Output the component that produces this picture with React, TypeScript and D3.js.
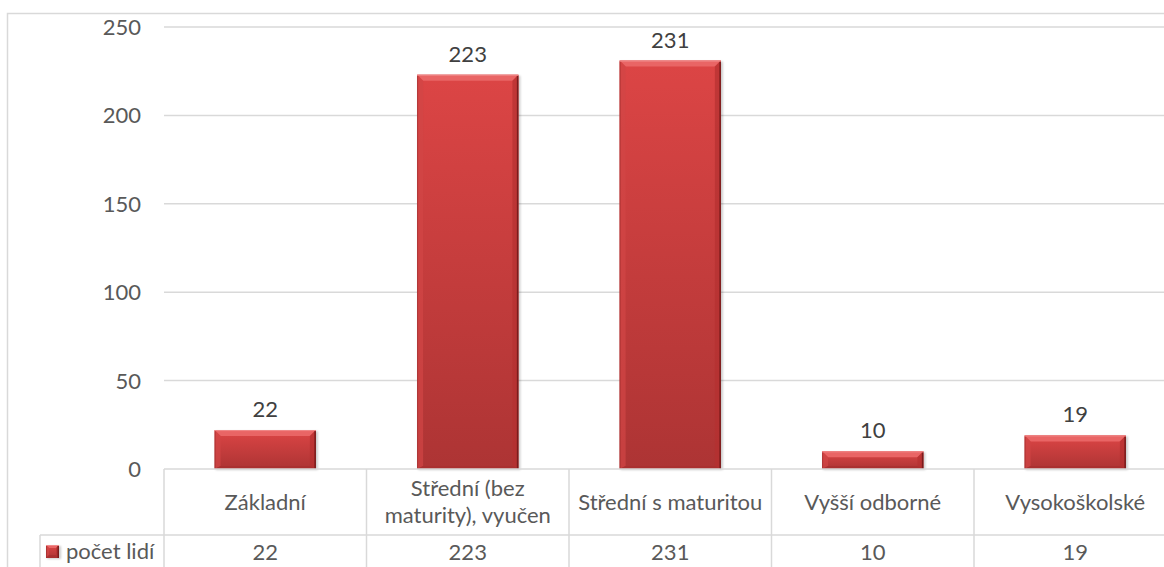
import React from "react";
import * as d3 from "d3";

const categories = ["Základní", "Střední (bez maturity), vyučen", "Střední s maturitou", "Vyšší odborné", "Vysokoškolské"];
const categoryLines = [["Základní"], ["Střední (bez", "maturity), vyučen"], ["Střední s maturitou"], ["Vyšší odborné"], ["Vysokoškolské"]];
const values = [22, 223, 231, 10, 19];
const seriesName = "počet lidí";
const yTicks = [0, 50, 100, 150, 200, 250];

const W = 1164;
const H = 567;
const FONT = "Lato, 'Open Sans', sans-serif";
const TEXT = "#595959";
const GRID = "#d9d9d9";
const FS = 22;

export default function App() {
  const plotLeft = 164;
  const plotRight = 1176.5;
  const y0 = 469;
  const yTop = 27;
  const x = d3.scaleBand<string>().domain(categories).range([plotLeft, plotRight]).paddingInner(0.5).paddingOuter(0.25);
  const y = d3.scaleLinear().domain([0, 250]).range([y0, yTop]);
  const step = x.step();
  const colEdges = d3.range(categories.length + 1).map((i) => plotLeft + i * step);
  const rowSplit = 535;

  const bar = (i: number, bx: number, by: number, bw: number, bh: number, bev = 6) => {
    const b = Math.min(bev, bh / 2, bw / 2);
    const bb = Math.min(3, bh / 3);
    return (
      <g key={i}>
        <rect x={bx + 1} y={by + 1} width={bw + 1} height={bh} fill="#000" opacity={0.2} filter="url(#blur)" />
        <rect x={bx} y={by} width={bw} height={bh} fill="url(#barGrad)" />
        <polygon points={`${bx},${by} ${bx + bw},${by} ${bx + bw - b},${by + b} ${bx + b},${by + b}`} fill="#e96565" />
        <polygon points={`${bx},${by} ${bx + b},${by + b} ${bx + b},${by + bh - bb} ${bx},${by + bh}`} fill="#d24646" opacity={0.7} />
        <polygon points={`${bx + bw},${by} ${bx + bw},${by + bh} ${bx + bw - b},${by + bh - bb} ${bx + bw - b},${by + b}`} fill="#b53131" opacity={0.7} />
        <polygon points={`${bx},${by + bh} ${bx + bw},${by + bh} ${bx + bw - b},${by + bh - bb} ${bx + b},${by + bh - bb}`} fill="#a93030" opacity={0.8} />
        <line x1={bx + bw - 0.75} x2={bx + bw - 0.75} y1={by + 1} y2={by + bh} stroke="#7a1c1c" strokeWidth={1.5} />
        <line x1={bx + 0.5} x2={bx + 0.5} y1={by + 1} y2={by + bh} stroke="#9a2a2a" strokeWidth={1} opacity={0.6} />
        <line x1={bx} x2={bx + bw} y1={by + 0.5} y2={by + 0.5} stroke="#f08a8a" strokeWidth={1} />
      </g>
    );
  };

  return (
    <svg width={W} height={H} style={{ position: "absolute", left: 0, top: 0 }} fontFamily={FONT}>
      <defs>
        <linearGradient id="barGrad" x1="0" y1="0" x2="0" y2="1">
          <stop offset="0" stopColor="#dc4545" />
          <stop offset="1" stopColor="#ad3434" />
        </linearGradient>
        <filter id="blur" x="-10%" y="-10%" width="120%" height="120%">
          <feGaussianBlur stdDeviation="1.2" />
        </filter>
      </defs>
      <rect x={0} y={0} width={W} height={H} fill="#fff" />
      <path d={`M7.5,${H} V13.5 H${W}`} fill="none" stroke={GRID} strokeWidth={1.5} />
      {yTicks.filter((t) => t > 0).map((t) => (
        <line key={t} x1={plotLeft} x2={W} y1={y(t)} y2={y(t)} stroke={GRID} strokeWidth={1.5} />
      ))}
      {yTicks.map((t) => (
        <text key={t} x={141} y={y(t)} dy="0.36em" textAnchor="end" fontSize={FS} fill={TEXT}>
          {t}
        </text>
      ))}
      {categories.map((c, i) => {
        const bx = x(c)!;
        const by = y(values[i]);
        return bar(i, bx, by, x.bandwidth(), y0 - by);
      })}
      {categories.map((c, i) => (
        <text key={c} x={x(c)! + x.bandwidth() / 2} y={y(values[i]) - 13} textAnchor="middle" fontSize={FS} fill="#404040">
          {values[i]}
        </text>
      ))}
      <line x1={plotLeft} x2={W} y1={y0} y2={y0} stroke={GRID} strokeWidth={1.5} />
      <line x1={40} x2={W} y1={rowSplit} y2={rowSplit} stroke={GRID} strokeWidth={1.5} />
      <line x1={40} x2={40} y1={rowSplit} y2={H} stroke={GRID} strokeWidth={1.5} />
      {colEdges.map((cx, i) => (
        <line key={i} x1={cx} x2={cx} y1={y0} y2={H} stroke={GRID} strokeWidth={1.5} />
      ))}
      {categories.map((c, i) => {
        const cx = x(c)! + x.bandwidth() / 2;
        const lines = categoryLines[i];
        const mid = (y0 + rowSplit) / 2;
        return (
          <text key={c} x={cx} textAnchor="middle" fontSize={FS} fill={TEXT}>
            {lines.map((l, j) => (
              <tspan key={j} x={cx} y={mid + (j - (lines.length - 1) / 2) * 27} dy="0.36em">
                {l}
              </tspan>
            ))}
          </text>
        );
      })}
      {categories.map((c, i) => (
        <text key={c} x={x(c)! + x.bandwidth() / 2} y={552} dy="0.36em" textAnchor="middle" fontSize={FS} fill={TEXT}>
          {values[i]}
        </text>
      ))}
      {bar(99, 46, 545, 13, 13, 3)}
      <text x={66} y={551} dy="0.36em" fontSize={FS} fill={TEXT}>
        {seriesName}
      </text>
    </svg>
  );
}
